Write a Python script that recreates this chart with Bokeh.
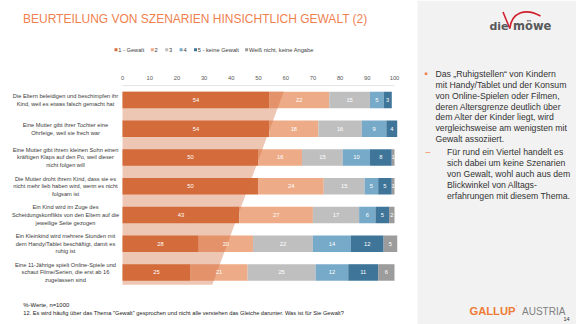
from bokeh.plotting import figure
from bokeh.models import Range1d, Label, BoxAnnotation
from bokeh.core.properties import value
from bokeh.embed import file_html
from bokeh.resources import INLINE

# ---------------- data ----------------
categories = [
    "Die Eltern beleidigen und beschimpfen ihr\nKind, weil es etwas falsch gemacht hat",
    "Eine Mutter gibt ihrer Tochter eine\nOhrfeige, weil sie frech war",
    "Eine Mutter gibt ihrem kleinen Sohn einen\nkräftigen Klaps auf den Po, weil dieser\nnicht folgen will",
    "Die Mutter droht ihrem Kind, dass sie es\nnicht mehr lieb haben wird, wenn es nicht\nfolgsam ist",
    "Ein Kind wird im Zuge des\nScheidungskonflikts von den Eltern auf die\njeweilige Seite gezogen",
    "Ein Kleinkind wird mehrere Stunden mit\ndem Handy/Tablet beschäftigt, damit es\nruhig ist",
    "Eine 11-Jährige spielt Online-Spiele und\nschaut Filme/Serien, die erst ab 16\nzugelassen sind",
]
gewalt_1 = [54, 54, 50, 50, 43, 28, 25]
wert_2 = [22, 18, 16, 24, 27, 20, 21]
wert_3 = [15, 16, 15, 15, 17, 22, 25]
wert_4 = [5, 9, 10, 5, 6, 14, 12]
keine_gewalt_5 = [3, 4, 8, 5, 5, 12, 11]
weiss_nicht = [0, 0, 1, 1, 2, 5, 6]
series_names = ["1 - Gewalt", "2", "3", "4", "5 - keine Gewalt", "Weiß nicht, keine Angabe"]
tick_values = [0, 10, 20, 30, 40, 50, 60, 70, 80, 90, 100]

series = [gewalt_1, wert_2, wert_3, wert_4, keine_gewalt_5, weiss_nicht]
colors = ["#D36D3B", "#EDAB87", "#BFBFBF", "#77A9C8", "#3E7598", "#9C9C9C"]

# highlight shape (percent at top / bottom edge)
hl_top_pct, hl_bottom_pct = 59.3, 33.0

bullet_lines = [
    "Das „Ruhigstellen“ von Kindern",
    "mit Handy/Tablet und der Konsum",
    "von Online-Spielen oder Filmen,",
    "deren Altersgrenze deutlich über",
    "dem Alter der Kinder liegt, wird",
    "vergleichsweise am wenigsten mit",
    "Gewalt assoziiert.",
]
sub_lines = [
    "Für rund ein Viertel handelt es",
    "sich dabei um keine Szenarien",
    "von Gewalt, wohl auch aus dem",
    "Blickwinkel von Alltags-",
    "erfahrungen mit diesem Thema.",
]

# ---------------- layout helpers ----------------
W, H = 576, 324
N = len(categories)
X0_PX, PX_PER_PCT = 122.0, 2.72
Y_TOP_PX, ROW_PX = 85.1, 28.75


def dx(px):
    return (px - X0_PX) / PX_PER_PCT


def dy(py):
    return N - (py - Y_TOP_PX) / ROW_PX


FONT_NAME = "Liberation Sans"
FONT = value(FONT_NAME)

p = figure(width=W, height=H,
           x_range=Range1d(dx(0), dx(W)), y_range=Range1d(dy(H), dy(0)),
           min_border=0, x_axis_location=None, y_axis_location=None,
           toolbar_location=None, output_backend="svg")
p.outline_line_color = None
p.background_fill_color = "white"
p.border_fill_color = "white"
p.xgrid.visible = False
p.ygrid.visible = False

# right grey panel
p.add_layout(BoxAnnotation(left=dx(417), fill_color="#F2F2F2", fill_alpha=1,
                           line_color=None, level="underlay"))

row_y = [N - 0.5 - i for i in range(N)]

# faint top line of plot area
p.segment(x0=[0], y0=[N], x1=[100], y1=[N], line_color="#E4E4E4", line_width=1)

# stacked bars
lefts = [0.0] * N
label_x, label_y, label_t = [], [], []
for vals, col in zip(series, colors):
    rights = [l + v for l, v in zip(lefts, vals)]
    p.hbar(y=row_y, left=lefts, right=rights, height=0.575,
           fill_color=col, line_color=None)
    for i, v in enumerate(vals):
        if v > 0:
            label_x.append(lefts[i] + v / 2)
            label_y.append(row_y[i])
            label_t.append(str(v))
    lefts = rights

# highlight overlay
p.patch(x=[0, hl_top_pct, hl_bottom_pct, 0],
        y=[dy(91), dy(91), dy(284.3), dy(284.3)],
        fill_color="#D2693A", fill_alpha=0.38, line_color=None)

# value labels
p.text(x=label_x, y=label_y, text=label_t, text_color="white",
       text_font=FONT, text_font_size="5.8px", text_align="center",
       text_baseline="middle")

# category labels
p.text(x=[dx(65)] * N, y=row_y, text=categories, text_color="#3A3A3A",
       text_font=FONT, text_font_size="5.7px", text_align="center",
       text_baseline="middle", text_line_height=1.28)

# top tick labels
p.text(x=tick_values, y=[dy(77.3)] * len(tick_values),
       text=[str(t) for t in tick_values], text_color="#595959",
       text_font=FONT, text_font_size="5.8px", text_align="center",
       text_baseline="middle")


def lab(px, py, text, size, color, align="left", style="normal", font=FONT_NAME):
    p.add_layout(Label(x=dx(px), y=dy(py), text=text, text_font=font,
                       text_font_size=size, text_color=color, text_align=align,
                       text_baseline="middle", text_font_style=style))


# title
lab(22.5, 18.5, "BEURTEILUNG VON SZENARIEN HINSICHTLICH GEWALT (2)", "12px", "#F0814F")

# legend
leg_sq_px = [114.0, 150.3, 164.7, 179.1, 193.5, 244.6]
p.scatter(x=[dx(v + 1.5) for v in leg_sq_px], y=[dy(49.2)] * len(leg_sq_px),
          marker="square", size=3, fill_color=colors, line_color=None)
for v, name in zip(leg_sq_px, series_names):
    lab(v + 3.8, 49.2, name, "5.7px", "#404040")

# right panel text
p.scatter(x=[dx(425.5)], y=[dy(73.3)], marker="square", size=2.6,
          fill_color="#F0814F", line_color=None)
for i, t in enumerate(bullet_lines):
    lab(435, 73.3 + i * 10.9, t, "8.7px", "#333333")
lab(425, 151.7, "–", "8.7px", "#F0814F")
for i, t in enumerate(sub_lines):
    lab(446.5, 151.7 + i * 10.85, t, "8.7px", "#333333")

# footer
lab(22.8, 304, "%-Werte, n=1000", "5.9px", "#222222")
lab(22.8, 312.7, "12. Es wird häufig über das Thema \"Gewalt\" gesprochen und nicht alle "
    "verstehen das Gleiche darunter. Was ist für Sie Gewalt?", "5.7px", "#222222")

# logos
lab(508, 25.5, "die", "11px", "#58595B", align="right", style="bold", font="DejaVu Sans")
lab(512.5, 25.5, "möwe", "11.5px", "#58595B", style="bold", font="DejaVu Sans")
p.line(x=[dx(502.5), dx(509.3)], y=[dy(11.5), dy(28)],
       line_color="#D0202E", line_width=1.6)
p.bezier(x0=[dx(509.3)], y0=[dy(28)], x1=[dx(540)], y1=[dy(15.5)],
         cx0=[dx(511)], cy0=[dy(12)], cx1=[dx(525)], cy1=[dy(7)],
         line_color="#D0202E", line_width=1.6)

lab(469, 310.5, "GALLUP", "11.2px", "#EE7B35", style="bold")
lab(515.5, 306.5, "'", "6px", "#EE7B35")
lab(521.5, 310.5, "AUSTRIA", "10px", "#808080")
lab(569, 318.5, "14", "5.5px", "#333333", align="right")

open("out.html", "w").write(file_html(p, INLINE))
